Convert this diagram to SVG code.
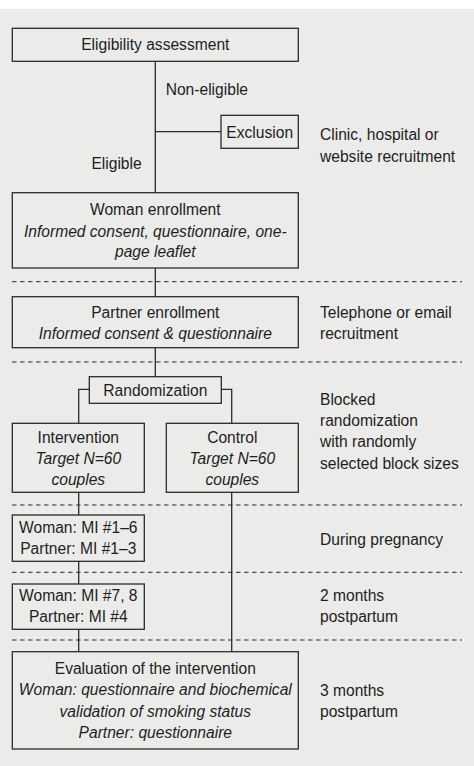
<svg xmlns="http://www.w3.org/2000/svg" width="474" height="766" viewBox="0 0 474 766">
<style>
.box{fill:none;stroke:#2b2b2b;stroke-width:1.3}
.ln{fill:none;stroke:#2b2b2b;stroke-width:1.3}
.dash{fill:none;stroke:#2b2b2b;stroke-width:1;stroke-dasharray:4.5 3.5}
text{font-family:"Liberation Sans",Arial,sans-serif;font-size:15.6px;fill:#1e1e1e}
.c{text-anchor:middle}
.i{font-style:italic}
</style>
<rect x="0" y="0" width="474" height="766" fill="#ffffff"/>
<rect x="0" y="9" width="474" height="757" fill="#ebebea"/>
<g id="separators">
<line class="dash" x1="12" y1="281.7" x2="462" y2="281.7"/>
<line class="dash" x1="12" y1="362" x2="462" y2="362"/>
<line class="dash" x1="12" y1="505" x2="462" y2="505"/>
<line class="dash" x1="12" y1="572.3" x2="462" y2="572.3"/>
<line class="dash" x1="12" y1="640" x2="462" y2="640"/>
</g>
<g id="connectors">
<line class="ln" x1="155.3" y1="61.5" x2="155.3" y2="192.7"/>
<line class="ln" x1="155.3" y1="131.7" x2="221" y2="131.7"/>
<line class="ln" x1="155.3" y1="268" x2="155.3" y2="296.7"/>
<line class="ln" x1="155.3" y1="347.7" x2="155.3" y2="376.7"/>
<polyline class="ln" points="89.3,389.3 78.7,389.3 78.7,423.3"/>
<polyline class="ln" points="221.3,389.3 231.7,389.3 231.7,423.3"/>
<line class="ln" x1="78.7" y1="492.3" x2="78.7" y2="515"/>
<line class="ln" x1="78.7" y1="561.3" x2="78.7" y2="584"/>
<line class="ln" x1="78.7" y1="629.3" x2="78.7" y2="651.7"/>
<line class="ln" x1="231.7" y1="492.3" x2="231.7" y2="651.7"/>
</g>
<g id="eligibility">
<rect class="box" x="12.3" y="28.3" width="286" height="33"/>
<text class="c" x="155.3" y="50">Eligibility assessment</text>
</g>
<g id="label-noneligible"><text x="165.7" y="95">Non-eligible</text></g>
<g id="label-eligible"><text x="141.7" y="169" text-anchor="end">Eligible</text></g>
<g id="exclusion">
<rect class="box" x="221" y="115.3" width="77.3" height="33"/>
<text class="c" x="259.7" y="138">Exclusion</text>
</g>
<g id="note-clinic">
<text x="320" y="140">Clinic, hospital or</text>
<text x="320" y="162">website recruitment</text>
</g>
<g id="woman-enrollment">
<rect class="box" x="12.3" y="192.7" width="286" height="75.3"/>
<text class="c" x="155.3" y="215">Woman enrollment</text>
<text class="c i" x="155.3" y="236.7">Informed consent, questionnaire, one-</text>
<text class="c i" x="155.3" y="257.3">page leaflet</text>
</g>
<g id="partner-enrollment">
<rect class="box" x="12.3" y="296.7" width="286" height="51"/>
<text class="c" x="155.3" y="317.7">Partner enrollment</text>
<text class="c i" x="155.3" y="338.7">Informed consent &amp; questionnaire</text>
</g>
<g id="note-telephone">
<text x="320" y="317.7">Telephone or email</text>
<text x="320" y="338.7">recruitment</text>
</g>
<g id="randomization">
<rect class="box" x="89.3" y="376.7" width="132" height="26.6"/>
<text class="c" x="155.3" y="396">Randomization</text>
</g>
<g id="note-blocked">
<text x="320" y="405">Blocked</text>
<text x="320" y="426">randomization</text>
<text x="320" y="447.3">with randomly</text>
<text x="320" y="469.3">selected block sizes</text>
</g>
<g id="intervention">
<rect class="box" x="12.3" y="423.3" width="132" height="69"/>
<text class="c" x="78.3" y="442.7">Intervention</text>
<text class="c i" x="78.3" y="464">Target N=60</text>
<text class="c i" x="78.3" y="485">couples</text>
</g>
<g id="control">
<rect class="box" x="166.3" y="423.3" width="132" height="69"/>
<text class="c" x="232.3" y="442.7">Control</text>
<text class="c i" x="232.3" y="464">Target N=60</text>
<text class="c i" x="232.3" y="485">couples</text>
</g>
<g id="mi-pregnancy">
<rect class="box" x="12.3" y="515" width="132" height="46.3"/>
<text class="c" x="78.3" y="533.3">Woman: MI #1–6</text>
<text class="c" x="78.3" y="554.3">Partner: MI #1–3</text>
</g>
<g id="note-pregnancy"><text x="320" y="545">During pregnancy</text></g>
<g id="mi-postpartum">
<rect class="box" x="12.3" y="584" width="132" height="45.3"/>
<text class="c" x="78.3" y="601">Woman: MI #7, 8</text>
<text class="c" x="78.3" y="622.3">Partner: MI #4</text>
</g>
<g id="note-2months">
<text x="320" y="601">2 months</text>
<text x="320" y="622.3">postpartum</text>
</g>
<g id="evaluation">
<rect class="box" x="12.3" y="651.7" width="286" height="97.3"/>
<text class="c" x="155.3" y="674.3">Evaluation of the intervention</text>
<text class="c i" x="155.3" y="695.3">Woman: questionnaire and biochemical</text>
<text class="c i" x="155.3" y="716.7">validation of smoking status</text>
<text class="c i" x="155.3" y="738.3">Partner: questionnaire</text>
</g>
<g id="note-3months">
<text x="320" y="695.7">3 months</text>
<text x="320" y="716.7">postpartum</text>
</g>
</svg>
